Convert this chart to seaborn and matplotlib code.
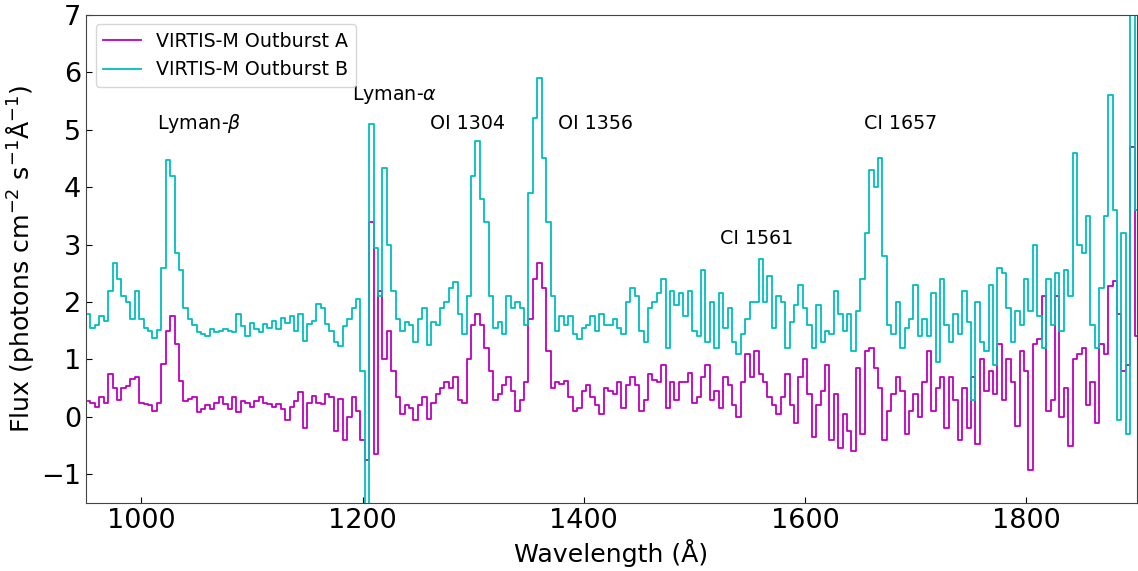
import numpy as np
import pandas as pd
import matplotlib
matplotlib.use("Agg")
import matplotlib.pyplot as plt
import seaborn as sns

# spectra, one value per 4 A bin starting at 950 A
wl_start = 950.0
bin_width = 4.0

flux_a = [
    # 950 - 1070
    0.28, 0.25, 0.17, 0.34, 0.25, 0.75, 0.5, 0.3, 0.51, 0.54,
    0.66, 0.69, 0.25, 0.23, 0.2, 0.11, 0.25, 0.92, 1.5, 1.76,
    1.27, 0.63, 0.28, 0.31, 0.34, 0.08, 0.14, 0.2, 0.14, 0.25,
    # 1070 - 1186
    0.34, 0.23, 0.14, 0.34, 0.08, 0.28, 0.25, 0.17, 0.28, 0.34,
    0.25, 0.23, 0.17, 0.23, 0.14, -0.05, 0.17, 0.28, 0.43, -0.2,
    0.25, 0.37, 0.25, 0.23, 0.4, 0.34, -0.25, 0.31, -0.4,
    # 1186 - 1306
    0.0, 0.35, 0.1, -0.4, -0.75, 3.4, -0.65, 2.2, 1.0, 1.5,
    0.8, 0.35, 0.05, 0.2, 0.15, -0.06, 0.2, 0.35, -0.03, 0.25,
    0.4, 0.5, 0.6, 0.5, 0.7, 0.3, 0.25, 1.0, 1.6, 1.8,
    # 1306 - 1422
    1.6, 1.2, 0.8, 0.3, 0.4, 0.55, 0.7, 0.45, 0.1, 0.3,
    0.6, 1.7, 2.4, 2.68, 2.25, 1.15, 0.5, 0.6, 0.57, 0.63,
    0.34, 0.11, 0.15, 0.45, 0.55, 0.35, 0.2, 0.05, 0.5,
    # 1422 - 1542
    0.45, 0.4, 0.6, 0.15, 0.55, 0.7, 0.55, 0.1, 0.3, 0.75,
    0.65, 0.6, 0.9, 0.15, 0.6, 0.3, 0.6, 0.6, 0.77, 0.25,
    0.35, 0.7, 0.9, 0.3, 0.45, 0.15, 0.7, 0.55, 0.2, 0.0,
    # 1542 - 1658
    0.6, 1.1, 0.7, 1.15, 0.75, 0.6, 0.35, 0.2, 0.05, 0.35,
    0.75, 0.2, -0.1, 0.7, 1.0, 0.4, -0.35, 0.2, 0.45, 0.9,
    -0.4, 0.4, -0.55, 0.05, -0.25, -0.6, 0.85, -0.3, 1.15,
    # 1658 - 1778
    1.2, 0.85, 0.5, -0.4, 0.1, 0.4, 0.69, 0.45, -0.3, 0.1,
    0.4, 0.0, 0.6, 1.15, 0.1, 0.5, 0.7, -0.2, 0.7, 0.3,
    -0.4, 0.5, -0.2, 0.7, -0.47, 1.0, 0.45, 0.8, 0.4, 1.27,
    # 1778 - 1902
    0.3, 1.0, 0.6, -0.15, 1.15, 0.8, -0.93, 1.27, 1.35, 2.1,
    0.1, 0.3, 2.1, 0.0, 0.5, -0.5, 1.0, 1.1, 1.2, 0.2,
    0.6, -0.1, 1.27, 1.1, 2.28, 2.36, 1.79, 0.8, 0.9, 4.7, 1.4,
]

flux_b = [
    # 950 - 1070
    1.8, 1.55, 1.6, 1.75, 1.67, 2.19, 2.68, 2.4, 2.1, 2.0,
    1.7, 2.2, 1.7, 1.55, 1.5, 1.38, 1.52, 2.6, 4.47, 4.2,
    2.86, 2.55, 1.9, 1.7, 1.6, 1.47, 1.44, 1.41, 1.53, 1.47,
    # 1070 - 1186
    1.5, 1.53, 1.5, 1.47, 1.8, 1.58, 1.41, 1.64, 1.53, 1.47,
    1.61, 1.55, 1.67, 1.53, 1.73, 1.64, 1.76, 1.5, 1.79, 1.32,
    1.61, 1.67, 1.96, 1.9, 1.61, 1.5, 1.3, 1.24, 1.58,
    # 1186 - 1306
    1.7, 1.9, 2.05, 0.8, -1.7, 5.1, 2.94, 2.1, 4.33, 3.0,
    2.2, 1.7, 1.5, 1.65, 1.6, 1.3, 1.7, 1.9, 1.25, 1.65,
    1.6, 1.9, 2.0, 2.25, 2.35, 1.8, 1.44, 2.1, 4.2, 4.8,
    # 1306 - 1422
    3.8, 3.4, 2.1, 1.55, 1.65, 1.45, 2.1, 1.9, 2.0, 1.9,
    1.6, 3.9, 5.2, 5.9, 4.5, 3.4, 2.1, 1.5, 1.75, 1.6,
    1.75, 1.45, 1.35, 1.55, 1.6, 1.75, 1.5, 1.8, 1.6,
    # 1422 - 1542
    1.6, 1.7, 1.55, 1.45, 2.0, 2.25, 2.1, 1.5, 1.3, 1.9,
    2.0, 2.15, 2.4, 1.2, 2.2, 1.95, 2.15, 1.75, 2.2, 1.5,
    1.4, 2.55, 1.3, 2.0, 1.2, 2.15, 1.55, 1.9, 1.3, 1.1,
    # 1542 - 1658
    1.45, 1.7, 2.0, 2.0, 2.75, 2.0, 2.45, 1.55, 2.1, 2.0,
    1.2, 1.65, 1.95, 2.3, 1.9, 1.6, 1.2, 1.95, 1.3, 1.5,
    1.45, 2.2, 1.8, 1.5, 1.8, 1.15, 1.85, 2.4, 3.2,
    # 1658 - 1778
    4.3, 4.0, 4.5, 2.8, 1.6, 1.45, 2.0, 1.2, 1.55, 1.7,
    2.3, 1.4, 1.7, 1.4, 2.15, 0.95, 2.4, 1.6, 1.3, 1.8,
    1.45, 2.2, 1.65, 0.3, 2.0, 1.3, 1.15, 2.3, 0.9, 2.6,
    # 1778 - 1902
    2.5, 1.9, 1.3, 1.85, 1.6, 2.4, 1.85, 3.0, 1.75, 1.2,
    2.4, 1.6, 2.5, 1.5, 2.55, 2.1, 4.6, 3.0, 2.85, 3.5,
    1.6, 1.2, 2.25, 3.5, 5.6, 3.6, -0.05, 3.2, -0.3, 7.5, 3.6,
]

series_names = ["VIRTIS-M Outburst A", "VIRTIS-M Outburst B"]
series_colors = ["m", "c"]

line_labels = ["Lyman-$\\beta$", "Lyman-$\\alpha$", "OI 1304", "OI 1356", "CI 1561", "CI 1657"]
# where each label sits (wavelength, flux)
label_pos = [(1052, 5.1), (1229, 5.6), (1295, 5.1), (1411, 5.1), (1556, 3.1), (1686, 5.1)]

wavelength = wl_start + bin_width * (np.arange(len(flux_a)) + 0.5)
df = pd.DataFrame({"wavelength": wavelength, "A": flux_a, "B": flux_b})

fig, ax = plt.subplots(figsize=(11.38, 5.71), dpi=100)
fig.subplots_adjust(left=0.0756, right=0.999, top=0.974, bottom=0.119)

for col, name, color in zip(["A", "B"], series_names, series_colors):
    sns.lineplot(data=df, x="wavelength", y=col, ax=ax, color=color, label=name,
                 drawstyle="steps-mid", lw=1.3, estimator=None, sort=False)

for text, (x, y) in zip(line_labels, label_pos):
    ax.text(x, y, text, ha="center", va="center", fontsize=13.7)

ax.set_xlim(950, 1900)
ax.set_ylim(-1.5, 7)
ax.set_yticks(range(-1, 8))
ax.tick_params(labelsize=19.5, direction="in", length=4)
ax.set_xlabel("Wavelength (Å)", fontsize=18.2)
ax.set_ylabel("Flux (photons cm$^{-2}$ s$^{-1}$Å$^{-1}$)", fontsize=18.2)
for sp in ax.spines.values():
    sp.set_color("#444444")
ax.legend(loc="upper left", fontsize=13.7)

fig.savefig("out.png", dpi=100)
